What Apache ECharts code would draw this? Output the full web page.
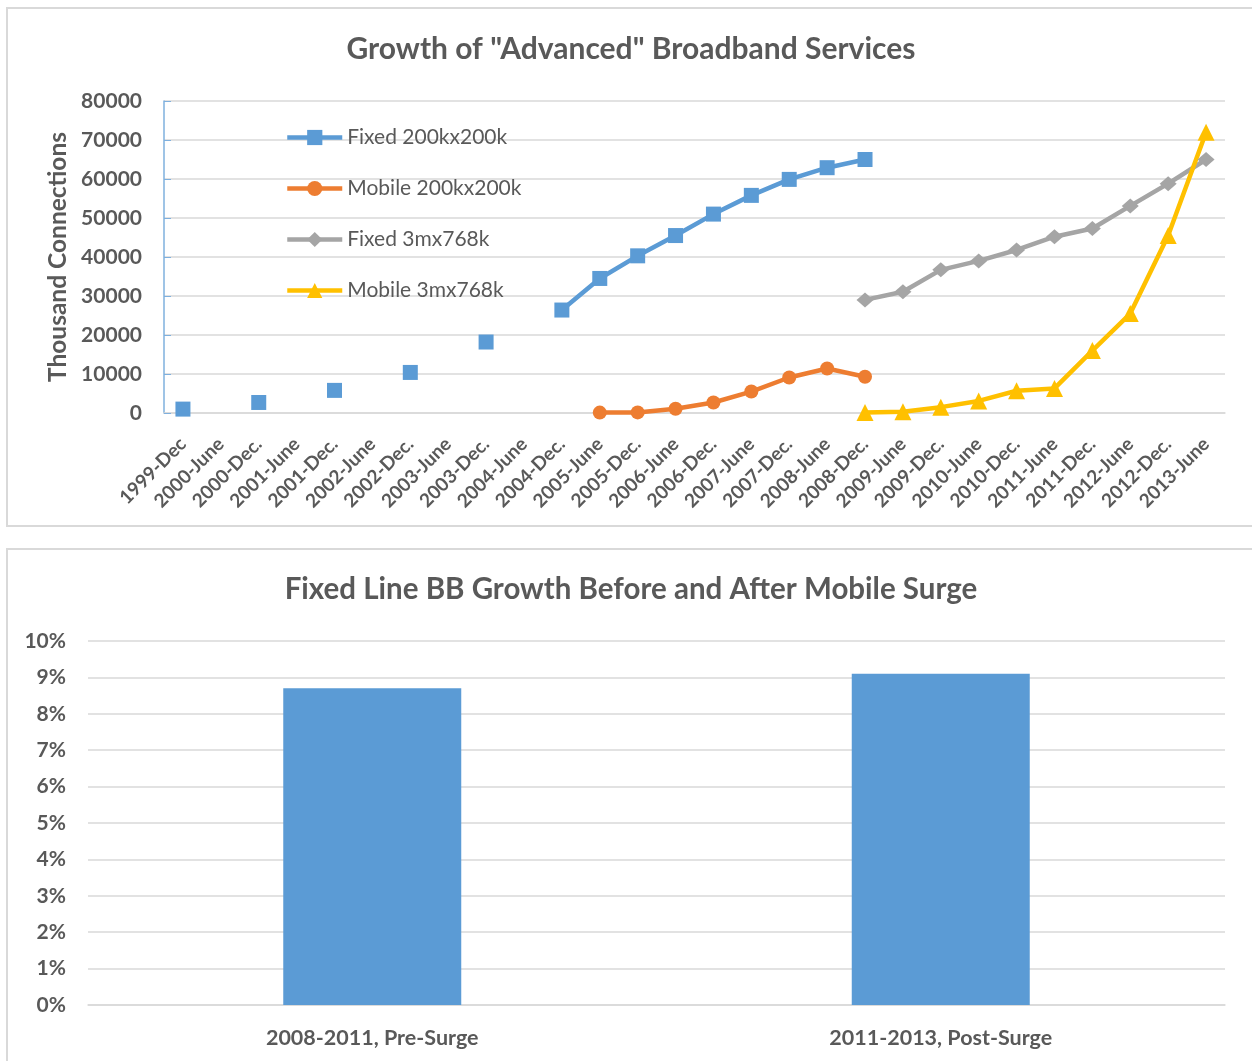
<!DOCTYPE html>
<html>
<head>
<meta charset="utf-8">
<script src="https://cdn.jsdelivr.net/npm/echarts@6/dist/echarts.min.js"></script>
<style>
  html, body { margin: 0; padding: 0; background: #fff; overflow: hidden; width: 1252px; height: 1061px; }
  .box { position: absolute; border: 2px solid #d9d9d9; box-sizing: content-box; }
  #growth { left: 6px; top: 7px; width: 1246px; height: 516px; }
  #surge { left: 6px; top: 548px; width: 1246px; height: 520px; }
</style>
</head>
<body>
<div id="growth" class="box"></div>
<div id="surge" class="box"></div>
<script>
  const FONT = "Lato";
  const TEXT = "#595959";

  const periods = [
    "1999-Dec", "2000-June", "2000-Dec.", "2001-June", "2001-Dec.", "2002-June", "2002-Dec.",
    "2003-June", "2003-Dec.", "2004-June", "2004-Dec.", "2005-June", "2005-Dec.", "2006-June",
    "2006-Dec.", "2007-June", "2007-Dec.", "2008-June", "2008-Dec.", "2009-June", "2009-Dec.",
    "2010-June", "2010-Dec.", "2011-June", "2011-Dec.", "2012-June", "2012-Dec.", "2013-June",
  ];
  const fixed200k = [
    1000, null, 2700, null, 5800, null, 10400, null, 18200, null, 26400,
    34500, 40300, 45500, 51000, 55800, 59900, 62900, 65000,
    null, null, null, null, null, null, null, null, null,
  ];
  const mobile200k = [
    null, null, null, null, null, null, null, null, null, null, null,
    100, 150, 1100, 2700, 5500, 9100, 11400, 9300,
    null, null, null, null, null, null, null, null, null,
  ];
  const fixed3m = [
    null, null, null, null, null, null, null, null, null, null, null,
    null, null, null, null, null, null, null,
    29000, 31100, 36700, 39000, 41800, 45200, 47300, 53100, 58800, 65000,
  ];
  const mobile3m = [
    null, null, null, null, null, null, null, null, null, null, null,
    null, null, null, null, null, null, null,
    100, 300, 1500, 3100, 5700, 6300, 16000, 25500, 45500, 72000,
  ];
  const yTicks = [0, 10000, 20000, 30000, 40000, 50000, 60000, 70000, 80000];

  const surgePeriods = ["2008-2011, Pre-Surge", "2011-2013, Post-Surge"];
  const surgeGrowth = [8.7, 9.1];

  function lineSeries(name, data, color, symbol, size) {
    return {
      name: name,
      type: "line",
      data: data,
      symbol: symbol,
      symbolSize: size,
      showAllSymbol: true,
      connectNulls: false,
      lineStyle: { color: color, width: 4.5 },
      itemStyle: { color: color },
      emphasis: { disabled: true },
    };
  }

  // top chart
  const growthChart = echarts.init(document.getElementById("growth"));
  growthChart.setOption({
    animation: false,
    backgroundColor: "#fff",
    textStyle: { fontFamily: FONT },
    title: {
      text: 'Growth of "Advanced" Broadband Services',
      left: "center",
      top: 25,
      padding: 0,
      textStyle: { fontFamily: FONT, fontSize: 30, fontWeight: "bold", color: TEXT },
    },
    legend: {
      orient: "vertical",
      left: 277,
      top: 118,
      padding: 0,
      itemWidth: 55,
      itemHeight: 19,
      itemGap: 30,
      lineStyle: { width: 4.5 },
      textStyle: { fontFamily: FONT, fontSize: 21, color: TEXT, lineHeight: 21 },
      data: ["Fixed 200kx200k", "Mobile 200kx200k", "Fixed 3mx768k", "Mobile 3mx768k"],
    },
    grid: { left: 156, top: 92, width: 1061, height: 312, outerBoundsMode: "none" },
    xAxis: {
      type: "category",
      data: periods,
      axisLine: { lineStyle: { color: "#d9d9d9", width: 1.5 } },
      axisTick: { show: false },
      axisLabel: {
        interval: 0,
        rotate: 45,
        margin: 28,
        fontFamily: FONT,
        fontSize: 19,
        fontWeight: "bold",
        color: TEXT,
      },
    },
    yAxis: {
      type: "value",
      min: yTicks[0],
      max: yTicks[yTicks.length - 1],
      interval: yTicks[1] - yTicks[0],
      name: "Thousand Connections",
      nameLocation: "middle",
      nameGap: 92,
      nameTextStyle: { fontFamily: FONT, fontSize: 24.5, fontWeight: "bold", color: TEXT },
      axisLine: { show: true, lineStyle: { color: "#7fb0de", width: 1.5 } },
      axisTick: { show: true, inside: true, length: 7, lineStyle: { color: "#7fb0de" } },
      axisLabel: {
        margin: 22,
        fontFamily: FONT,
        fontSize: 21,
        fontWeight: "bold",
        color: TEXT,
        formatter: (v) => String(v),
      },
      splitLine: { lineStyle: { color: "#d9d9d9", width: 1.5 } },
    },
    series: [
      lineSeries("Fixed 200kx200k", fixed200k, "#5b9bd5", "rect", 15),
      lineSeries("Mobile 200kx200k", mobile200k, "#ed7d31", "circle", 14),
      lineSeries("Fixed 3mx768k", fixed3m, "#a5a5a5", "diamond", [17, 15]),
      lineSeries("Mobile 3mx768k", mobile3m, "#ffc000", "triangle", 17),
    ],
  });

  // bottom chart
  const surgeChart = echarts.init(document.getElementById("surge"));
  surgeChart.setOption({
    animation: false,
    backgroundColor: "#fff",
    textStyle: { fontFamily: FONT },
    title: {
      text: "Fixed Line BB Growth Before and After Mobile Surge",
      left: "center",
      top: 24,
      padding: 0,
      textStyle: { fontFamily: FONT, fontSize: 29.5, fontWeight: "bold", color: TEXT },
    },
    grid: { left: 80, top: 91, width: 1137, height: 364, outerBoundsMode: "none" },
    xAxis: {
      type: "category",
      data: surgePeriods,
      axisLine: { lineStyle: { color: "#d9d9d9", width: 1.5 } },
      axisTick: { show: false },
      axisLabel: { margin: 22, fontFamily: FONT, fontSize: 21.5, fontWeight: "bold", color: TEXT },
    },
    yAxis: {
      type: "value",
      min: 0,
      max: 10,
      interval: 1,
      axisLine: { show: false },
      axisTick: { show: false },
      axisLabel: {
        margin: 22,
        fontFamily: FONT,
        fontSize: 21,
        fontWeight: "bold",
        color: TEXT,
        formatter: "{value}%",
      },
      splitLine: { lineStyle: { color: "#d9d9d9", width: 1.5 } },
    },
    series: [
      {
        type: "bar",
        data: surgeGrowth,
        barWidth: 178,
        itemStyle: { color: "#5b9bd5" },
        emphasis: { disabled: true },
      },
    ],
  });
</script>
</body>
</html>
